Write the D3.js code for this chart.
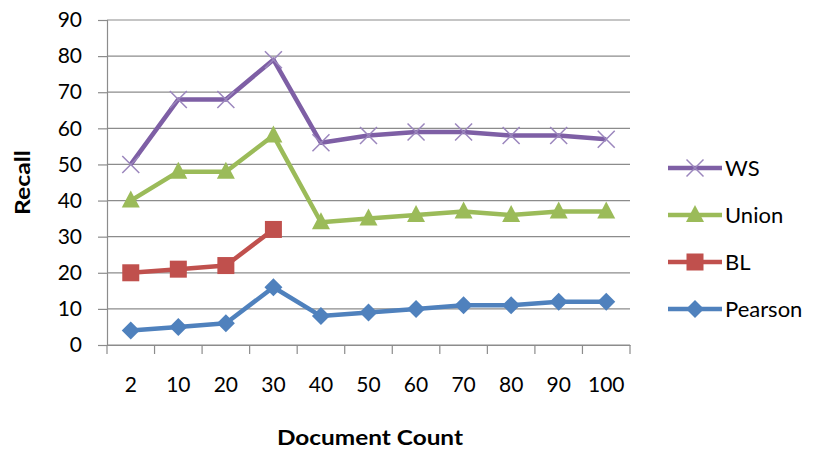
<!DOCTYPE html>
<html>
<head>
<meta charset="utf-8">
<script src="https://cdn.jsdelivr.net/npm/d3@7"></script>
<style>
  html, body { margin: 0; padding: 0; background: #fff; }
  svg { display: block; font-family: Lato, "Open Sans", sans-serif; }
</style>
</head>
<body>
<svg id="chart" width="813" height="449"></svg>
<script>
// Recall by document count for four methods
const categories = ["2", "10", "20", "30", "40", "50", "60", "70", "80", "90", "100"];
const wsValues      = [50, 68, 68, 79, 56, 58, 59, 59, 58, 58, 57];
const unionValues   = [40, 48, 48, 58, 34, 35, 36, 37, 36, 37, 37];
const blValues      = [20, 21, 22, 32];
const pearsonValues = [4, 5, 6, 16, 8, 9, 10, 11, 11, 12, 12];
const yTicks = [0, 10, 20, 30, 40, 50, 60, 70, 80, 90];

const series = [
  { name: "WS",      values: wsValues,      color: "#7E5FA5", marker: "x" },
  { name: "Union",   values: unionValues,   color: "#9BBB59", marker: "triangle" },
  { name: "BL",      values: blValues,      color: "#C0504D", marker: "square" },
  { name: "Pearson", values: pearsonValues, color: "#4F81BD", marker: "diamond" }
];

const svg = d3.select("#chart");
const plotLeft = 107, plotRight = 630, plotTop = 20, plotBottom = 345;
const labelFont = 21;

const x = d3.scaleBand().domain(categories).range([plotLeft, plotRight]);
const y = d3.scaleLinear().domain([0, 90]).range([plotBottom, plotTop]);

// Horizontal gridlines
svg.append("g")
  .selectAll("line")
  .data(yTicks)
  .join("line")
  .attr("x1", plotLeft).attr("x2", plotRight)
  .attr("y1", d => y(d)).attr("y2", d => y(d))
  .attr("stroke", "#8c8c8c").attr("stroke-width", 1.2);

// Y axis
const yAxis = svg.append("g")
  .attr("transform", `translate(${plotLeft},0)`)
  .call(d3.axisLeft(y).tickValues(yTicks).tickSize(9).tickPadding(16).tickFormat(d3.format("d")));
yAxis.select(".domain").attr("stroke", "#8c8c8c").attr("stroke-width", 1.2);
yAxis.selectAll(".tick line").attr("stroke", "#8c8c8c").attr("stroke-width", 1.2);
yAxis.selectAll(".tick text").attr("font-size", labelFont).attr("fill", "#000")
  .attr("font-family", "Lato, 'Open Sans', sans-serif");

// X axis with ticks at category boundaries
const xAxis = svg.append("g")
  .attr("transform", `translate(0,${plotBottom})`)
  .call(d3.axisBottom(x).tickSize(0).tickPadding(32));
xAxis.select(".domain").attr("stroke", "#8c8c8c").attr("stroke-width", 1.2);
xAxis.selectAll(".tick text").attr("font-size", labelFont).attr("fill", "#000")
  .attr("font-family", "Lato, 'Open Sans', sans-serif");
const boundaries = categories.map(c => x(c)).concat([x(categories[categories.length - 1]) + x.bandwidth()]);
svg.append("g")
  .selectAll("line")
  .data(boundaries)
  .join("line")
  .attr("x1", d => d).attr("x2", d => d)
  .attr("y1", plotBottom).attr("y2", plotBottom + 9)
  .attr("stroke", "#8c8c8c").attr("stroke-width", 1.2);

// Axis titles
svg.append("text")
  .attr("transform", `translate(30,${182.5}) rotate(-90)`)
  .attr("text-anchor", "middle")
  .attr("font-size", 21).attr("font-weight", "bold")
  .attr("textLength", 65).attr("lengthAdjust", "spacingAndGlyphs")
  .text("Recall");
svg.append("text")
  .attr("x", 370).attr("y", 445)
  .attr("text-anchor", "middle")
  .attr("font-size", 21).attr("font-weight", "bold")
  .attr("textLength", 186).attr("lengthAdjust", "spacingAndGlyphs")
  .text("Document Count");

const cx = (d, i) => x(categories[i]) + x.bandwidth() / 2;

function drawMarker(g, type, color) {
  if (type === "x") {
    g.append("path").attr("d", "M-8.5,-8.5L8.5,8.5M-8.5,8.5L8.5,-8.5")
      .attr("stroke", "#9b86bd").attr("stroke-width", 1.5).attr("fill", "none");
  } else if (type === "triangle") {
    g.append("path").attr("d", "M0,-10L9,7L-9,7Z").attr("fill", color);
  } else if (type === "square") {
    g.append("rect").attr("x", -8.5).attr("y", -8.5).attr("width", 17).attr("height", 17).attr("fill", color);
  } else if (type === "diamond") {
    g.append("path").attr("d", "M0,-9L9,0L0,9L-9,0Z").attr("fill", color);
  }
}

const line = d3.line().x(cx).y(d => y(d));

series.forEach(s => {
  const g = svg.append("g");
  g.append("path")
    .datum(s.values)
    .attr("d", line)
    .attr("fill", "none")
    .attr("stroke", s.color)
    .attr("stroke-width", 4.5)
    .attr("stroke-linejoin", "round");
  s.values.forEach((v, i) => {
    const m = g.append("g").attr("transform", `translate(${cx(v, i)},${y(v)})`);
    drawMarker(m, s.marker, s.color);
  });
});

// Legend
const legend = svg.append("g");
series.forEach((s, i) => {
  const ly = 168 + i * 47;
  const lg = legend.append("g").attr("transform", `translate(0,${ly})`);
  lg.append("line").attr("x1", 668).attr("x2", 722).attr("y1", 0).attr("y2", 0)
    .attr("stroke", s.color).attr("stroke-width", 4.5);
  const m = lg.append("g").attr("transform", "translate(695,0)");
  drawMarker(m, s.marker, s.color);
  lg.append("text").attr("x", 725).attr("y", 0).attr("dy", "0.36em")
    .attr("font-size", 22).attr("fill", "#000")
    .text(s.name);
});
</script>
</body>
</html>
